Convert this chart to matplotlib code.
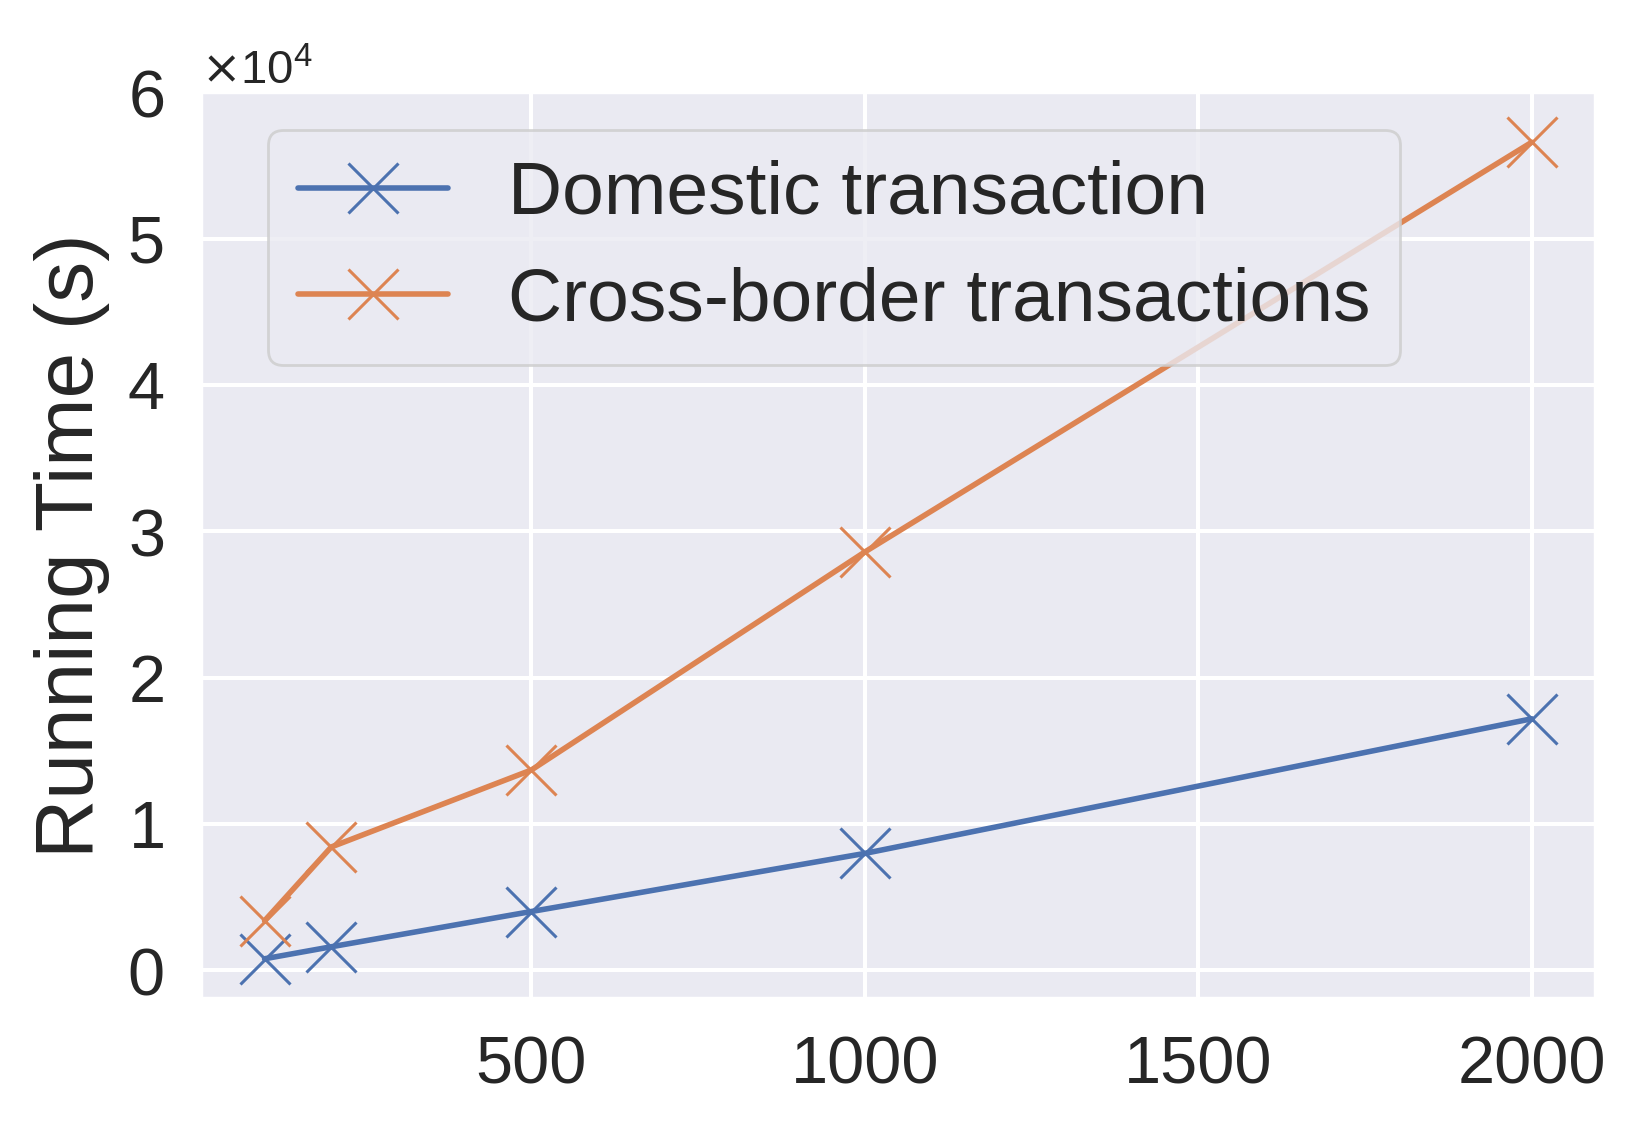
import numpy as np
import matplotlib
matplotlib.use('Agg')
import matplotlib.pyplot as plt
import seaborn as sns

sns.set_theme(style='darkgrid')
plt.rcParams['font.family'] = ['Liberation Sans', 'DejaVu Sans']

# number of transactions
x = [100, 200, 500, 1000, 2000]
domestic = [800, 1620, 4030, 8000, 17200]
cross_border = [3400, 8440, 13700, 28600, 56600]

fig, ax = plt.subplots(figsize=(8.18, 5.64), dpi=200)

ax.plot(x, domestic, marker='x', markersize=18, markeredgewidth=1.1, linewidth=2.0,
        label='Domestic transaction')
ax.plot(x, cross_border, marker='x', markersize=18, markeredgewidth=1.1, linewidth=2.0,
        label='Cross-border transactions')

ax.set_ylim(-1900, 60000)
ax.set_yticks(np.arange(0, 60001, 10000))
ax.set_xticks([500, 1000, 1500, 2000])
ax.ticklabel_format(axis='y', style='sci', scilimits=(0, 0), useMathText=True)
ax.yaxis.get_offset_text().set_fontsize(17)
ax.tick_params(axis='both', labelsize=24, pad=7.5)
ax.grid(True, linewidth=1.45)
ax.set_ylabel('Running Time (s)', fontsize=29.5, labelpad=6)

ax.legend(loc='upper left', fontsize=27, handlelength=2, bbox_to_anchor=(0.021, 1.0))

plt.subplots_adjust(left=0.123, right=0.975, top=0.918, bottom=0.115)
plt.savefig('out.png', dpi=200)
